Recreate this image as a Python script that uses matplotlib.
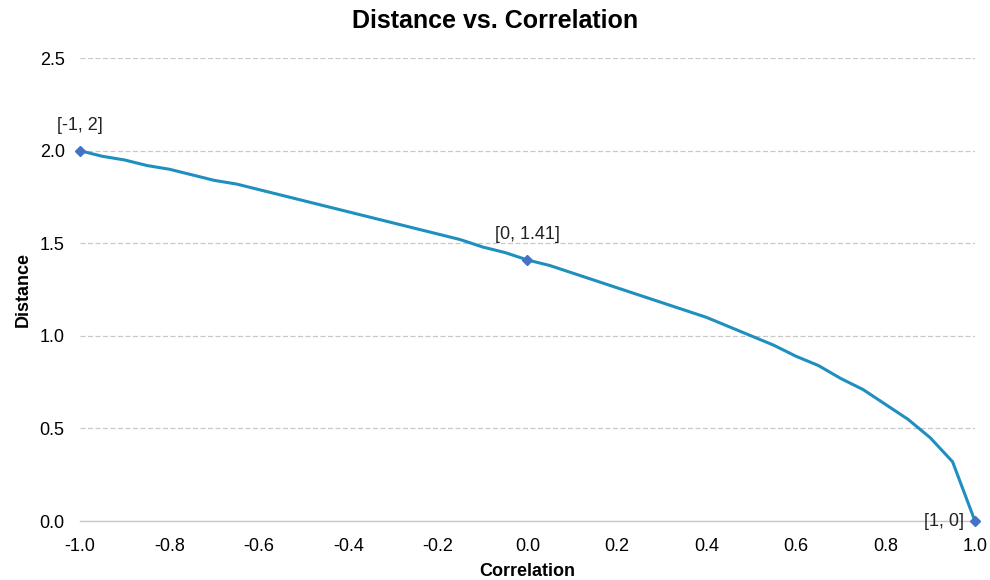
import matplotlib
matplotlib.use("Agg")
import matplotlib.pyplot as plt

plt.rcParams['font.family'] = ['Liberation Sans', 'DejaVu Sans']

correlation = [-1.00, -0.95, -0.90, -0.85, -0.80, -0.75, -0.70, -0.65, -0.60, -0.55,
               -0.50, -0.45, -0.40, -0.35, -0.30, -0.25, -0.20, -0.15, -0.10, -0.05,
               0.00, 0.05, 0.10, 0.15, 0.20, 0.25, 0.30, 0.35, 0.40, 0.45,
               0.50, 0.55, 0.60, 0.65, 0.70, 0.75, 0.80, 0.85, 0.90, 0.95, 1.00]
distance = [2.00, 1.97, 1.95, 1.92, 1.90, 1.87, 1.84, 1.82, 1.79, 1.76,
            1.73, 1.70, 1.67, 1.64, 1.61, 1.58, 1.55, 1.52, 1.48, 1.45,
            1.41, 1.38, 1.34, 1.30, 1.26, 1.22, 1.18, 1.14, 1.10, 1.05,
            1.00, 0.95, 0.89, 0.84, 0.77, 0.71, 0.63, 0.55, 0.45, 0.32, 0.00]

marker_x = [-1.0, 0.0, 1.0]
marker_y = [2.0, 1.41, 0.0]
marker_labels = ["[-1, 2]", "[0, 1.41]", "[1, 0]"]

fig = plt.figure(figsize=(9.9, 5.8), dpi=100)
ax = fig.add_axes([0.0808, 0.1017, 0.904, 0.798])

ax.plot(correlation, distance, color='#1f8fbf', lw=2.2, zorder=3, clip_on=False)
ax.plot(marker_x, marker_y, linestyle='none', marker='D', ms=5.5,
        color='#4472c4', zorder=4, clip_on=False)

offsets = [(0, 12, 'center', 'bottom'), (0, 12, 'center', 'bottom'), (-8, 0, 'right', 'center')]
for x, y, t, (dx, dy, ha, va) in zip(marker_x, marker_y, marker_labels, offsets):
    ax.annotate(t, (x, y), xytext=(dx, dy), textcoords='offset points',
                ha=ha, va=va, fontsize=13, color='#222222')

ax.set_xlim(-1.0, 1.0)
ax.set_ylim(0.0, 2.5)
ax.set_xticks([-1.0, -0.8, -0.6, -0.4, -0.2, 0.0, 0.2, 0.4, 0.6, 0.8, 1.0])
ax.set_yticks([0.0, 0.5, 1.0, 1.5, 2.0, 2.5])
ax.xaxis.set_major_formatter(matplotlib.ticker.FormatStrFormatter('%.1f'))
ax.yaxis.set_major_formatter(matplotlib.ticker.FormatStrFormatter('%.1f'))
ax.tick_params(axis='x', length=0, labelsize=13, colors='#000000', pad=12)
ax.tick_params(axis='y', length=0, labelsize=13, colors='#000000', pad=11)

ax.grid(axis='y', color='#c8c8c8', linestyle=(0, (4, 2)), lw=0.9)
ax.set_axisbelow(True)
for s in ['top', 'right', 'left']:
    ax.spines[s].set_visible(False)
ax.spines['bottom'].set_color('#c8c8c8')
ax.spines['bottom'].set_linewidth(1.0)

ax.set_xlabel('Correlation', fontsize=13, fontweight='bold', labelpad=6)
ax.set_ylabel('Distance', fontsize=13, fontweight='bold', labelpad=6)
fig.suptitle('Distance vs. Correlation', fontsize=18, fontweight='bold', y=0.985)

fig.savefig('out.png', dpi=100)
